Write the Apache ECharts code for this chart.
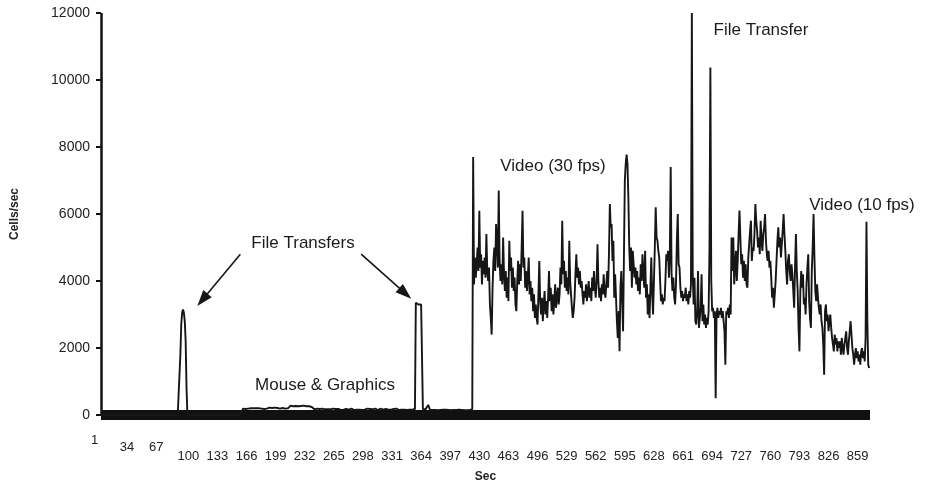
<!DOCTYPE html>
<html>
<head>
<meta charset="utf-8">
<script src="https://cdn.jsdelivr.net/npm/echarts@6/dist/echarts.min.js"></script>
<style>html,body{margin:0;padding:0;background:#fff;}#c{width:925px;height:488px;}</style>
</head>
<body>
<div id="c"></div>
<script>
// ---- data (Cells/sec per second) ----
const idleStart = [
0,0,0,0,0,0,0,0,0,0, 0,0,0,0,0,0,0,0,0,0, 0,0,0,0,0,0,0,0,0,0,
0,0,0,0,0,0,0,0,0,0, 0,0,0,0,0,0,0,0,0,0, 0,0,0,0,0,0,0,0,0,0,
0,0,0,0,0,0,0,0,0,0, 0,0,0,0,0,0,0,0,0,0, 0,0,0,0,0,0,0,0,0,0
];
const fileTransfer1 = [1800,2700,3050,3150,3050,2800,2200,800];
const idleMid = [
0,0,0,0,0,0,0,0,0,0, 0,0,0,0,0,0,0,0,0,0, 0,0,0,0,0,0,0,0,0,0,
0,0,0,0,0,0,0,0,0,0, 0,0,0,0,0,0,0,0,0,0, 0,0,0,0,0,0,0,0,0,0,
0,0,0
];
const mouse1 = [
190,210,200,180,220,200,190,210,180,200,
220,190,200,210,180,200,190,220,200,180,
210,190,200,220,180,200,210,190,200,180,
220,200,190,210,200,180,220,190,200,210,
180,200,190,220,200,210,180,200,190,210,
220,200,190
];
const mouse2 = [
250,280,240,270,260,290,250,270,240,280,
260,250,290,270,240,260,280,250,270,260,
240,280,260,250,270,240,230,200
];
const mouse3 = [
170,180,160,190,170,150,180,170,160,190,
180,160,170,190,150,170,180,160,170,180,
160,190,170,150,180,170,160,180,190,170,
150,170,180,160,190,170,180,150,170,160,
180,170,190,160,170,150,180,170,160,190,
170,160,180,170,150,190,170,160,180,170,
190,170,160,180,170,150,170,180,160,190,
170,180,150,170,160,190,180,170,160,170,
150,180,170,190,160,170,180,160,170,150,
180,170,160,190,170,180,150,170,190,160,
170,180,160,170,190,150,170,180,160,170,
180,160,170,180
];
const fileTransfer2 = [180,3350,3300,3350,3300,3300,3300,3300,3300,180];
const mouse4 = [
160,150,170,140,160,300,250,160,150,140,
150,160,140,150,160,150,140,150,160,150,
140,150,160,150,140,160,150,140,150,160,
150,140,160,150,150,140,160,150,140,150,
160,150,140,150,160,150,140,160,150,140,
150,160,150,140,160,170
];
const video30a = [
7700,3900,4700,4100,4500,5000,4300,6100,4400,4800,
3900,4600,4200,4700,4100,5400,4300,4000,4400,3300,
2900,2400,3800,4600,5000,4300,5700,5200,4400,6700,
4600,4000,4500,3900,5300,4200,3700,4300,3500,4100,
3400,5200,4300,4700,3800,4400,3700,4100,3300,3100,
4000,4600,3900,4500,4000,5000,6100,4400,4700,3800,
4300,3700,4100,4700,3600,4000,3400,3800,3100,3600,
2900,3300,2900,2700,3600,4600,3400,3000,3500,2800,
3300,3700,3000,3400,2900,3500,4300,3400,3800,3100,
3600,3000,3400,3900,3200
];
const video30b = [
3500,3800,3300,3600,4400,3900,5800,4200,4600,3800,
4300,3700,4100,3600,5200,4000,3600,3200,2900,3100,
3500,4200,4800,4100,4400,3900,4300,3800,4000,3600,
3300,3700,3500,3900,3400,3700,4000,3500,3800,3400,
4100,3700,4300,3800,3500,4000,5100,4000,3500,3800,
3400,3900,3600,4200,3700,3500,3900,4300,3800,4800,
6300,5600,5700,4600,5200,3500,4200,3500,2800,2300,
3100,1900,3800,4300,3400,2500,4800,7000,7500,7770,
7500,6500,5000,4300,5000,3800,4900,4500,4100,4400,
3900,4300,3700,4100,3600,4500,4000,4800,4200,3800
];
const fileTransferMix = [
4900,3500,3900,3000,3600,2900,3800,4700,3600,3000,
4000,5000,6200,5300,5200,4900,4700,4000,3400,3600,
3300,3500,3400,4000,4800,4600,4900,4100,4700,7400,
4200,3700,4100,3500,3300,3900,5200,6000,4500,4400,
3800,3500,3700,3400,3600,3500,3800,3400,3600,3300,
3700,3500,3900,12000,4200,3300,4100,2800,2700,3100,
4300,2600,2900,3200,4200,2800,3300,2700,3000,2600,
2900,2700,3100,5000,10370,4000,3100,3200,2900,3100,
500,3000,3200,2900,3100,3000,3200,2900,3100,2800,
2500,1500,3100,3000,3200,2900,3300,3000,5300,4300
];
const video10a = [
5300,3900,4400,4900,4000,4600,5400,6100,5300,4500,
4800,4100,4600,4000,4500,3900,3800,4700,5100,5500,
5800,4600,5000,4900,5400,6300,5800,5500,5000,5300,
4800,5800,5200,4900,5400,5600,6000,5200,4800,4600,
4900,4400,4600,4100,3500,3800,3200,3600,4000,4600,
5200,5600,5000,5300,4700,5100,5500,6000,5400,4900,
4300,3900,4600,4800,4300,4000,4500,4200,3700,3200,
4400,5400,4300,3700,2600,1900,3700,4300,3800,4200,
3300,3500,3000,3900,4400,4800,3400,2900,2600,4300,
5000
];
const video10b = [
6000,4700,3700,3400,3900,3500,3200,3000,3300,2800,
2600,2100,1200,3100,3300,2800,3000,2500,2800,3000,
2600,2300,2100,1900,2400,2100,2300,1900,2200,2000,
2200,1800,2300,2000,1800,2100,2300,2500,2000,1800,
2200,2500,2800,2400,2000,1800,1500,1800,2000,1700,
1900,1600,1800,1500,1900,2000,1700,1900,1600,2300,
5770,2800,1500,1400
];
const yTicks = [0, 2000, 4000, 6000, 8000, 10000, 12000];
const secCount = 873;            // seconds on the x axis (1 .. 873)
const labelEvery = 33;           // tick label every 33 s: 1, 34, 67, ...

const cells = [].concat(idleStart, fileTransfer1, idleMid, mouse1, mouse2, mouse3,
  fileTransfer2, mouse4, video30a, video30b, fileTransferMix, video10a, video10b);
const secs = [];
for (let s = 1; s <= secCount; s++) secs.push(String(s));

const FONT = 'Liberation Sans, Arial, Helvetica, sans-serif';
const INK = '#161616';

const chart = echarts.init(document.getElementById('c'), null, {renderer: 'canvas'});
chart.setOption({
  animation: false,
  backgroundColor: '#ffffff',
  grid: {left: 101, right: 55, top: 13, bottom: 73, containLabel: false},
  xAxis: {
    type: 'category',
    data: secs,
    boundaryGap: false,
    name: 'Sec',
    nameLocation: 'middle',
    nameGap: 56,
    nameTextStyle: {fontFamily: FONT, fontSize: 12, fontWeight: 'bold', color: '#222'},
    axisLine: {lineStyle: {color: '#111', width: 10, cap: 'butt'}},
    axisTick: {show: false},
    splitLine: {show: false},
    axisLabel: {
      interval: labelEvery - 1,
      margin: 19,
      fontFamily: FONT,
      fontSize: 13,
      color: '#222',
      formatter: function (v) {
        if (v === '1') return '{a|' + v + '}';
        if (v === '34' || v === '67') return '{b|' + v + '}';
        return '{c|' + v + '}';
      },
      rich: {
        a: {fontFamily: FONT, fontSize: 13, color: '#222', padding: [0, 13, 0, 0]},
        b: {fontFamily: FONT, fontSize: 13, color: '#222', padding: [7, 6, 0, 0]},
        c: {fontFamily: FONT, fontSize: 13, color: '#222', padding: [16, 0, 0, 0]}
      }
    }
  },
  yAxis: {
    type: 'value',
    min: yTicks[0],
    max: yTicks[yTicks.length - 1],
    interval: yTicks[1] - yTicks[0],
    name: 'Cells/sec',
    nameLocation: 'middle',
    nameGap: 80,
    nameRotate: 90,
    nameTextStyle: {fontFamily: FONT, fontSize: 12, fontWeight: 'bold', color: '#222'},
    axisLine: {show: true, lineStyle: {color: '#111', width: 2.5, cap: 'butt'}},
    axisTick: {show: true, length: 5, lineStyle: {color: '#111', width: 2}},
    splitLine: {show: false},
    axisLabel: {
      fontFamily: FONT, fontSize: 14, color: '#222', margin: 11,
      formatter: function (v) { return String(v); }
    }
  },
  series: [{
    type: 'line',
    data: cells,
    showSymbol: false,
    symbol: 'none',
    silent: true,
    lineStyle: {color: INK, width: 1.9},
    z: 3,
    markLine: {
      silent: true,
      symbol: ['none', 'triangle'],
      symbolSize: [11, 16],
      label: {show: false},
      lineStyle: {color: INK, width: 1.6, type: 'solid'},
      data: [
        [{coord: [158, 4800]}, {coord: [115, 3440]}],
        [{coord: [295, 4800]}, {coord: [345, 3630]}]
      ]
    }
  }],
  graphic: [
    {type: 'text', x: 303, y: 243, style: {text: 'File Transfers', fontFamily: FONT, fontSize: 17, fill: '#1c1c1c', align: 'center', verticalAlign: 'middle'}},
    {type: 'text', x: 325, y: 385, style: {text: 'Mouse & Graphics', fontFamily: FONT, fontSize: 17, fill: '#1c1c1c', align: 'center', verticalAlign: 'middle'}},
    {type: 'text', x: 553, y: 166, style: {text: 'Video (30 fps)', fontFamily: FONT, fontSize: 17, fill: '#1c1c1c', align: 'center', verticalAlign: 'middle'}},
    {type: 'text', x: 761, y: 30, style: {text: 'File Transfer', fontFamily: FONT, fontSize: 17, fill: '#1c1c1c', align: 'center', verticalAlign: 'middle'}},
    {type: 'text', x: 862, y: 205, style: {text: 'Video (10 fps)', fontFamily: FONT, fontSize: 17, fill: '#1c1c1c', align: 'center', verticalAlign: 'middle'}}
  ]
});
</script>
</body>
</html>
